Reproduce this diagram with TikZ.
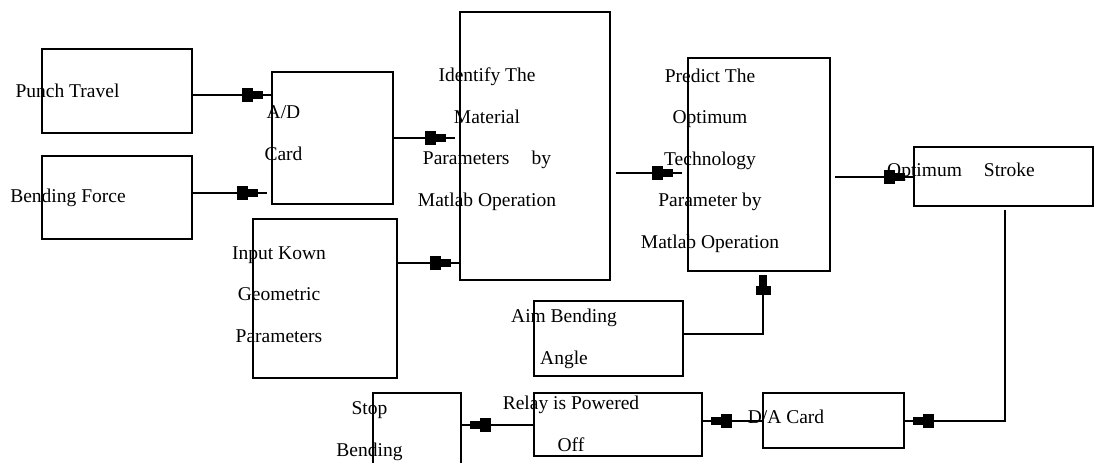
\documentclass[tikz,border=0pt]{standalone}
\usepackage{fontspec}
\setmainfont{Liberation Serif}
\usetikzlibrary{arrows.meta}

\tikzset{
  blk/.style={draw, line width=2.7pt, inner sep=0pt, outer sep=0pt},
  txt/.style={align=center, inner sep=0pt, anchor=base,
    font=\fontsize{19.5}{41.5}\selectfont},
  plug/.tip={Rectangle[length=11pt,width=14pt,sep=0pt,line width=0pt]
    Rectangle[length=10pt,width=8pt,sep=0pt,line width=0pt]
    Rectangle[length=9pt,width=2pt,sep=0pt,line width=0pt]},
  plugshort/.tip={Rectangle[length=9pt,width=15pt,sep=0pt,line width=0pt]
    Rectangle[length=11pt,width=8pt,sep=0pt,line width=0pt]},
  conn/.style={line width=2pt, -plug},
  connup/.style={line width=2pt, -plugshort}
}

\begin{document}
\begin{tikzpicture}[x=1pt, y=-1pt]
\useasboundingbox (0,0) rectangle (1098,463);

% inputs
\node[blk, minimum width=150pt, minimum height=84pt] (pt) at (117,91) {};
\node[txt] (ptt) at (67.5,97) {Punch Travel};
\node[blk, minimum width=150pt, minimum height=83pt] (bf) at (117,197.5) {};
\node[txt] (bft) at (68,202) {Bending Force};
\node[blk, minimum width=121pt, minimum height=132pt] (ad) at (332.5,138) {};
\node[txt] (adt) at (283.5,160) {A/D\\Card};
\node[blk, minimum width=144pt, minimum height=159pt] (ik) at (325,298.5) {};
\node[txt] (ikt) at (279,342) {Input Kown\\Geometric\\Parameters};

% matlab blocks
\node[blk, minimum width=150pt, minimum height=268pt] (id) at (535,146) {};
\node[txt] (idt) at (487,206) {Identify The\\Material\\Parameters\hspace{22pt}by\\Matlab Operation};
\node[blk, minimum width=142pt, minimum height=213pt] (pr) at (759,164.5) {};
\node[txt] (prt) at (710,248) {Predict The\\Optimum\\Technology\\Parameter by\\Matlab Operation};
\node[blk, minimum width=179pt, minimum height=59pt] (os) at (1003.5,176.5) {};
\node[txt] (ost) at (961,176) {Optimum\hspace{22pt}Stroke};
\node[blk, minimum width=149pt, minimum height=75pt] (aim) at (608.5,338.5) {};
\node[txt] (aimt) at (564,364) {Aim Bending\\Angle};

% output chain
\node[blk, minimum width=141pt, minimum height=55pt] (da) at (833.5,420.5) {};
\node[txt] (dat) at (786,423) {D/A Card};
\node[blk, minimum width=168pt, minimum height=63pt] (rl) at (618,424.5) {};
\node[txt] (rlt) at (571,451) {Relay is Powered\\Off};
\node[blk, minimum width=88pt, minimum height=82pt] (st) at (417,434) {};
\node[txt] (stt) at (369.5,456) {Stop\\Bending};

% connectors
\draw[conn] (pt.east |- 0,95) -- (ad.west |- 0,95);
\draw[conn] (bf.east |- 0,193) -- ([xshift=-5pt]ad.west |- 0,193);
\draw[conn] (ad.east) -- ([xshift=-5pt]id.west |- ad.east);
\draw[conn] (ik.east |- 0,263) -- (id.west |- 0,263);
\draw[conn] ([xshift=6pt]id.east |- 0,173) -- ([xshift=-6pt]pr.west |- 0,173);
\draw[conn] ([xshift=5pt]pr.east |- os.west) -- (os.west);
\draw[connup] (aim.east |- 0,334) -| ([xshift=4pt,yshift=-4pt]pr.south);
\draw[conn] ([xshift=1.5pt,yshift=-4pt]os.south) |- (da.east);
\draw[conn] (da.west) -- (rl.east |- da.west);
\draw[conn] (rl.west) -- (st.east |- rl.west);
\end{tikzpicture}
\end{document}
